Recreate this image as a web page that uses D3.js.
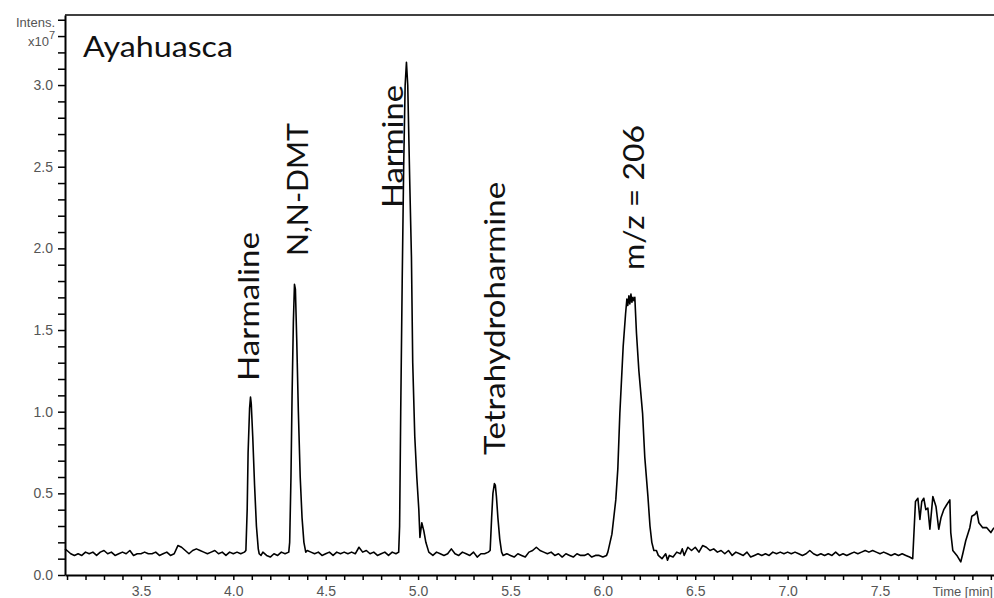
<!DOCTYPE html>
<html>
<head>
<meta charset="utf-8">
<script src="https://cdn.jsdelivr.net/npm/d3@7"></script>
<style>
  body { margin: 0; background: #fff; }
  svg { display: block; }
  .tick text { font-family: "Liberation Sans", Arial, sans-serif; font-size: 14px; fill: #555; }
  .lbl { font-family: Lato, "Open Sans", sans-serif; font-size: 29px; fill: #111; }
</style>
</head>
<body>
<svg id="chart" width="994" height="598"></svg>
<script>
// chromatogram trace, [time (min), intensity (x10^7)]
var trace = [
  [3.089,0.16],[3.10,0.15],[3.12,0.13],[3.14,0.12],[3.16,0.13],[3.18,0.12],[3.20,0.14],[3.22,0.13],
  [3.24,0.14],[3.26,0.12],[3.28,0.14],[3.30,0.15],[3.32,0.13],[3.34,0.14],[3.36,0.12],[3.38,0.13],
  [3.40,0.14],[3.42,0.13],[3.44,0.15],[3.46,0.12],[3.48,0.13],[3.50,0.13],[3.52,0.14],[3.54,0.13],
  [3.56,0.13],[3.58,0.14],[3.60,0.12],[3.62,0.13],[3.64,0.14],[3.66,0.12],[3.68,0.13],[3.70,0.18],
  [3.72,0.17],[3.74,0.15],[3.76,0.13],[3.78,0.15],[3.80,0.16],[3.82,0.15],[3.84,0.14],[3.86,0.13],
  [3.88,0.14],[3.90,0.15],[3.92,0.13],[3.94,0.14],[3.96,0.12],[3.98,0.14],[4.00,0.13],[4.02,0.14],
  [4.04,0.13],[4.06,0.14],
  // Harmaline
  [4.068,0.15],[4.075,0.40],[4.08,0.75],[4.088,1.02],[4.093,1.09],[4.097,1.05],[4.105,0.85],
  [4.115,0.55],[4.125,0.30],[4.135,0.16],[4.14,0.13],[4.15,0.12],[4.16,0.14],[4.18,0.12],
  [4.20,0.11],[4.22,0.13],[4.24,0.12],[4.26,0.14],[4.28,0.13],[4.30,0.14],
  // N,N-DMT
  [4.305,0.20],[4.312,0.60],[4.318,1.10],[4.325,1.55],[4.331,1.78],[4.336,1.75],[4.343,1.45],
  [4.352,1.00],[4.362,0.60],[4.372,0.35],[4.382,0.20],[4.392,0.14],[4.40,0.15],[4.42,0.14],
  [4.44,0.13],[4.46,0.14],[4.48,0.12],[4.50,0.13],[4.52,0.14],[4.54,0.12],[4.56,0.14],[4.58,0.13],
  [4.60,0.14],[4.62,0.13],[4.64,0.14],[4.66,0.13],[4.68,0.17],[4.70,0.14],[4.72,0.15],[4.74,0.13],
  [4.76,0.14],[4.78,0.12],[4.80,0.13],[4.82,0.14],[4.84,0.12],[4.86,0.14],[4.88,0.13],[4.895,0.14],
  // Harmine
  [4.90,0.30],[4.906,1.00],[4.914,1.80],[4.922,2.50],[4.930,3.00],[4.937,3.14],[4.944,3.00],
  [4.955,2.40],[4.964,1.95],[4.971,1.30],[4.982,0.85],[4.993,0.60],[5.004,0.40],[5.010,0.23],
  [5.020,0.32],[5.031,0.27],[5.042,0.20],[5.058,0.14],[5.08,0.12],[5.10,0.14],[5.12,0.13],
  [5.14,0.12],[5.16,0.13],[5.18,0.16],[5.20,0.13],[5.22,0.12],[5.24,0.14],[5.26,0.13],[5.28,0.12],
  [5.30,0.14],[5.32,0.11],[5.34,0.13],[5.36,0.13],[5.38,0.14],
  // Tetrahydroharmine
  [5.39,0.15],[5.398,0.35],[5.405,0.50],[5.413,0.56],[5.418,0.55],[5.424,0.48],[5.432,0.35],
  [5.442,0.22],[5.452,0.14],[5.46,0.12],[5.48,0.13],[5.50,0.12],[5.52,0.11],[5.54,0.13],
  [5.56,0.12],[5.58,0.11],[5.60,0.14],[5.62,0.15],[5.64,0.17],[5.66,0.15],[5.68,0.14],[5.70,0.13],
  [5.72,0.14],[5.74,0.12],[5.76,0.13],[5.78,0.11],[5.80,0.13],[5.82,0.12],[5.84,0.11],[5.86,0.13],
  [5.88,0.12],[5.90,0.12],[5.92,0.13],[5.94,0.11],[5.96,0.12],[5.98,0.12],[6.00,0.11],[6.02,0.12],
  // m/z 206
  [6.027,0.14],[6.049,0.25],[6.070,0.46],[6.081,0.65],[6.092,0.99],[6.110,1.40],[6.123,1.60],
  [6.130,1.69],[6.135,1.65],[6.141,1.71],[6.146,1.66],[6.152,1.72],[6.157,1.67],[6.163,1.70],
  [6.168,1.68],[6.173,1.70],[6.182,1.48],[6.195,1.25],[6.215,0.99],[6.227,0.72],[6.244,0.48],
  [6.255,0.30],[6.265,0.20],[6.276,0.15],[6.29,0.15],[6.30,0.12],[6.32,0.10],[6.34,0.13],
  [6.35,0.09],[6.36,0.12],[6.38,0.11],[6.40,0.14],[6.42,0.13],[6.43,0.16],[6.44,0.12],[6.46,0.17],
  [6.48,0.15],[6.50,0.17],[6.52,0.14],[6.54,0.18],[6.56,0.17],[6.58,0.15],[6.60,0.16],[6.62,0.14],
  [6.64,0.15],[6.66,0.13],[6.68,0.15],[6.70,0.12],[6.72,0.14],[6.74,0.13],[6.76,0.12],[6.78,0.14],
  [6.80,0.11],[6.82,0.12],[6.84,0.13],[6.86,0.12],[6.88,0.13],[6.90,0.12],[6.92,0.14],[6.94,0.13],
  [6.96,0.14],[6.98,0.13],[7.00,0.14],[7.02,0.13],[7.04,0.14],[7.06,0.13],[7.08,0.12],[7.10,0.13],
  [7.12,0.15],[7.14,0.13],[7.16,0.12],[7.18,0.13],[7.20,0.12],[7.22,0.13],[7.24,0.12],[7.26,0.14],
  [7.28,0.12],[7.30,0.13],[7.32,0.12],[7.34,0.13],[7.36,0.14],[7.38,0.13],[7.40,0.14],[7.42,0.15],
  [7.44,0.14],[7.46,0.15],[7.48,0.14],[7.50,0.13],[7.52,0.14],[7.54,0.13],[7.56,0.12],[7.58,0.13],
  [7.60,0.12],[7.62,0.13],[7.64,0.12],[7.66,0.11],[7.677,0.10],
  // late eluting junk
  [7.692,0.45],[7.705,0.47],[7.716,0.34],[7.726,0.45],[7.737,0.47],[7.748,0.40],[7.759,0.41],
  [7.770,0.28],[7.786,0.48],[7.803,0.42],[7.818,0.28],[7.830,0.35],[7.845,0.40],[7.861,0.43],
  [7.878,0.46],[7.883,0.26],[7.894,0.15],[7.916,0.12],[7.937,0.08],[7.948,0.13],[7.964,0.21],
  [7.986,0.29],[7.997,0.36],[8.013,0.37],[8.024,0.39],[8.035,0.32],[8.056,0.29],[8.078,0.29],
  [8.100,0.26],[8.117,0.29]
];

var peakNames = ["Harmaline", "N,N-DMT", "Harmine", "Tetrahydroharmine", "m/z = 206"];
var labelTime = [4.139, 4.404, 4.918, 5.470, 6.222];
var labelInt = [1.188, 1.953, 2.247, 0.735, 1.868];

var xLabelTicks = [3.5, 4.0, 4.5, 5.0, 5.5, 6.0, 6.5, 7.0, 7.5];
var yLabelTicks = [0.0, 0.5, 1.0, 1.5, 2.0, 2.5, 3.0];

var svg = d3.select("#chart");
var mLeft = 65, mRight = 994, mTop = 15, mBottom = 575;

var x = d3.scaleLinear().domain([3.089, 8.117]).range([mLeft, mRight]);
var y = d3.scaleLinear().domain([0, 3.429]).range([mBottom, mTop]);

var xMinor = d3.range(31, 82).map(function(d) { return d / 10; });
var yMinor = d3.range(0, 35).map(function(d) { return d / 10; });

function near(list, v) {
  return list.some(function(t) { return Math.abs(t - v) < 1e-6; });
}

var xAxis = d3.axisBottom(x)
  .tickValues(xMinor)
  .tickSize(5)
  .tickSizeOuter(0)
  .tickFormat(function(d) { return near(xLabelTicks, d) ? d.toFixed(1) : ""; });

var gx = svg.append("g")
  .attr("transform", "translate(0," + mBottom + ")")
  .call(xAxis);
gx.select(".domain").attr("stroke", "#000").attr("stroke-width", 2);
gx.selectAll(".tick line").attr("stroke", "#000").attr("stroke-width", 1.5);
gx.selectAll(".tick text").attr("y", 11);

// axis title sits where the 8.0 label would be
svg.append("text")
  .attr("x", 993).attr("y", mBottom + 21)
  .attr("text-anchor", "end")
  .style("font-family", "'Liberation Sans', Arial, sans-serif")
  .style("font-size", "13px").style("fill", "#555")
  .text("Time [min]");

var yAxis = d3.axisLeft(y)
  .tickValues(yMinor)
  .tickSize(7)
  .tickSizeOuter(0)
  .tickFormat(function(d) { return near(yLabelTicks, d) ? d.toFixed(1) : ""; });

var gy = svg.append("g")
  .attr("transform", "translate(" + mLeft + ",0)")
  .call(yAxis);
gy.select(".domain").attr("stroke", "#000").attr("stroke-width", 2);
gy.selectAll(".tick line").attr("stroke", "#000").attr("stroke-width", 1.5);
gy.selectAll(".tick text").attr("x", -12);

// top frame line
svg.append("line")
  .attr("x1", mLeft).attr("x2", mRight)
  .attr("y1", mTop).attr("y2", mTop)
  .attr("stroke", "#000").attr("stroke-width", 1.5);

// unit label
var unit = svg.append("g")
  .style("font-family", "'Liberation Sans', Arial, sans-serif")
  .style("fill", "#555");
unit.append("text").attr("x", 55).attr("y", 27).attr("text-anchor", "end")
  .style("font-size", "13px").text("Intens.");
var xt = unit.append("text").attr("x", 55).attr("y", 46).attr("text-anchor", "end")
  .style("font-size", "13px");
xt.append("tspan").text("x10");
xt.append("tspan").attr("dy", -7).style("font-size", "11px").text("7");

// trace
var line = d3.line()
  .x(function(d) { return x(d[0]); })
  .y(function(d) { return y(d[1]); });

svg.append("path")
  .datum(trace)
  .attr("fill", "none")
  .attr("stroke", "#000")
  .attr("stroke-width", 1.6)
  .attr("stroke-linejoin", "round")
  .attr("d", line);

// title
svg.append("text").attr("class", "lbl")
  .attr("x", 83).attr("y", 57)
  .attr("textLength", 150).attr("lengthAdjust", "spacingAndGlyphs")
  .text("Ayahuasca");

// peak labels
var labelLen = [149, 133, 123, 273, 145];
svg.selectAll(".peak")
  .data(peakNames)
  .enter()
  .append("text")
  .attr("class", "lbl peak")
  .attr("transform", function(d, i) {
    return "translate(" + x(labelTime[i]) + "," + y(labelInt[i]) + ") rotate(-90)";
  })
  .attr("textLength", function(d, i) { return labelLen[i]; })
  .attr("lengthAdjust", "spacingAndGlyphs")
  .text(function(d) { return d; });
</script>
</body>
</html>
